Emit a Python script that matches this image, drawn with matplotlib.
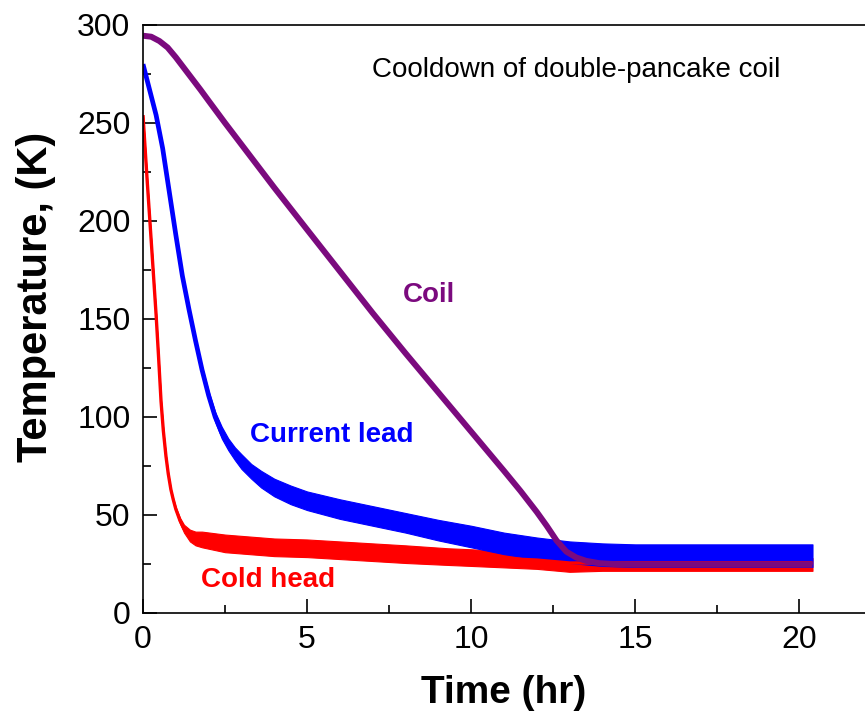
import numpy as np
import matplotlib.pyplot as plt
from matplotlib.ticker import MultipleLocator

# coil temperature (smooth)
coil_t = [0, 0.25, 0.5, 0.75, 1.0, 1.25, 1.5, 1.75, 2.0, 2.5, 3.0, 3.5, 4.0, 4.5,
          5.0, 6.0, 7.0, 8.0, 9.0, 10.0, 10.5, 11.0, 11.5, 12.0, 12.3, 12.6,
          12.9, 13.2, 13.5, 13.9, 14.5, 15.0, 17.0, 20.4]
coil_T = [294.5, 294, 291.8, 288.5, 283.5, 278, 272.5, 267, 261.3, 250, 239,
          228, 217, 206.3, 195.6, 174.3, 153, 132.5, 112.5, 92.5, 82.5, 72.5, 62.3,
          51.5, 44.5, 37, 31.3, 28.3, 26.6, 25.4, 24.8, 24.6, 24.6, 24.6]

# current lead: centre and noise spread
lead_t = [0, 0.2, 0.4, 0.6, 0.8, 1.0, 1.2, 1.4, 1.6, 1.8, 2.0,
          2.2, 2.4, 2.6, 2.8, 3.0, 3.3, 3.6, 4.0, 4.5, 5.0, 6.0, 7.0, 8.0, 9.0,
          10.0, 11.0, 12.0, 13.0, 14.0, 15.0, 17.0, 20.4]
lead_T = [280, 267, 254, 237, 215, 193, 172, 155, 139, 124, 111,
          100, 92, 86, 81, 77, 72, 68, 63.5, 60, 57, 52.5, 49, 45.5, 42,
          38.5, 35, 32.5, 30.5, 29, 28.5, 28.5, 28.5]
lead_up = [0, 0, 0, 0, 0, 0, 0, 0.5, 1, 1.5, 2,
           2.5, 3, 3, 3.5, 4, 4, 4.5, 5, 5, 5, 5.5, 5.5, 5.5, 5.5,
           6, 6, 6, 6, 6.5, 6.5, 6.5, 6.5]
lead_dn = [0, 0, 0, 0, 0, 0, 0, 0.5, 1, 1.5, 2,
           2.5, 3, 3, 3, 3.5, 3.5, 4, 4, 4.5, 4.5, 4.5, 4.5, 4.5, 5,
           5, 5, 5, 5, 5, 5, 5, 5]

# cold head: centre and noise spread
head_t = [0, 0.13, 0.27, 0.4, 0.47, 0.55, 0.62, 0.7, 0.77, 0.85, 0.92, 1.0,
          1.13, 1.25, 1.43, 1.6, 1.8, 2.5, 4.0, 5.0, 6.0, 8.0, 9.3, 10.0, 12.0,
          13.0, 14.0, 16.0, 18.0, 20.4]
head_T = [254, 220, 185, 152, 132, 108, 93, 80, 71, 63, 58, 53,
          47, 43, 39.5, 38, 37.5, 35.5, 33.5, 33, 32, 30, 29, 28.5, 27,
          25.5, 25.5, 25.5, 25.5, 25.5]
head_up = [0, 0, 0, 0, 0, 0, 0, 0, 0, 0, 0.5, 1,
           1.5, 2, 3, 3.5, 4, 4.5, 4.5, 4.5, 4.5, 4.5, 4, 4, 3.5,
           3, 2.5, 2.5, 2.5, 2.5]
head_dn = [0, 0, 0, 0, 0, 0, 0, 0, 0, 0, 0.5, 1,
           1.5, 2, 3, 3.5, 4, 4.5, 4.5, 4.5, 4.5, 4.5, 4.5, 4.5, 4.5,
           4.5, 4, 4, 4, 4]

PURPLE = '#7b0a7e'
BLUE = '#0000ff'
RED = '#ff0000'

fig = plt.figure(figsize=(8.65, 7.15), dpi=100)
ax = fig.add_axes([0.1653, 0.1427, 0.8347, 0.8224])


def draw_noisy(t, T, up, dn, color, lw):
    t = np.array(t)
    T = np.array(T)
    ax.fill_between(t, T - np.array(dn), T + np.array(up), color=color, lw=0.8)
    ax.plot(t, T, color=color, lw=lw, solid_capstyle='butt', solid_joinstyle='round')


draw_noisy(head_t, head_T, head_up, head_dn, RED, 2.4)
draw_noisy(lead_t, lead_T, lead_up, lead_dn, BLUE, 3.4)
ax.plot(coil_t, coil_T, color=PURPLE, lw=4.3, solid_capstyle='butt',
        solid_joinstyle='round')

ax.set_xlim(0, 22)
ax.set_ylim(0, 300)
ax.xaxis.set_major_locator(MultipleLocator(5))
ax.xaxis.set_minor_locator(MultipleLocator(2.5))
ax.yaxis.set_major_locator(MultipleLocator(50))
ax.yaxis.set_minor_locator(MultipleLocator(25))
ax.tick_params(which='both', direction='in', top=False, right=False, width=1.2)
ax.tick_params(which='major', length=10, pad=9)
ax.tick_params(which='minor', length=5.5)
ax.spines['right'].set_visible(False)
for s in ['left', 'bottom', 'top']:
    ax.spines[s].set_linewidth(1.2)

tick_font = ['Liberation Sans', 'DejaVu Sans']
for lab in ax.get_xticklabels() + ax.get_yticklabels():
    lab.set_family(tick_font)
    lab.set_fontsize(23)

ax.set_xlabel('Time (hr)', family=tick_font, fontsize=28, fontweight='bold', labelpad=14)
ax.set_ylabel('Temperature, (K)', family=tick_font, fontsize=30,
              fontweight='bold')
ax.yaxis.set_label_coords(-0.121, 0.537)

ax.text(13.2, 277, 'Cooldown of double-pancake coil', family=tick_font, fontsize=20,
        ha='center', va='center')
ax.text(8.7, 162, 'Coil', family=tick_font, fontsize=20, fontweight='bold',
        color=PURPLE, ha='center', va='center')
ax.text(5.75, 91, 'Current lead', family=tick_font, fontsize=20, fontweight='bold',
        color=BLUE, ha='center', va='center')
ax.text(3.8, 17, 'Cold head', family=tick_font, fontsize=20, fontweight='bold',
        color=RED, ha='center', va='center')

fig.savefig('out.png', dpi=100)
